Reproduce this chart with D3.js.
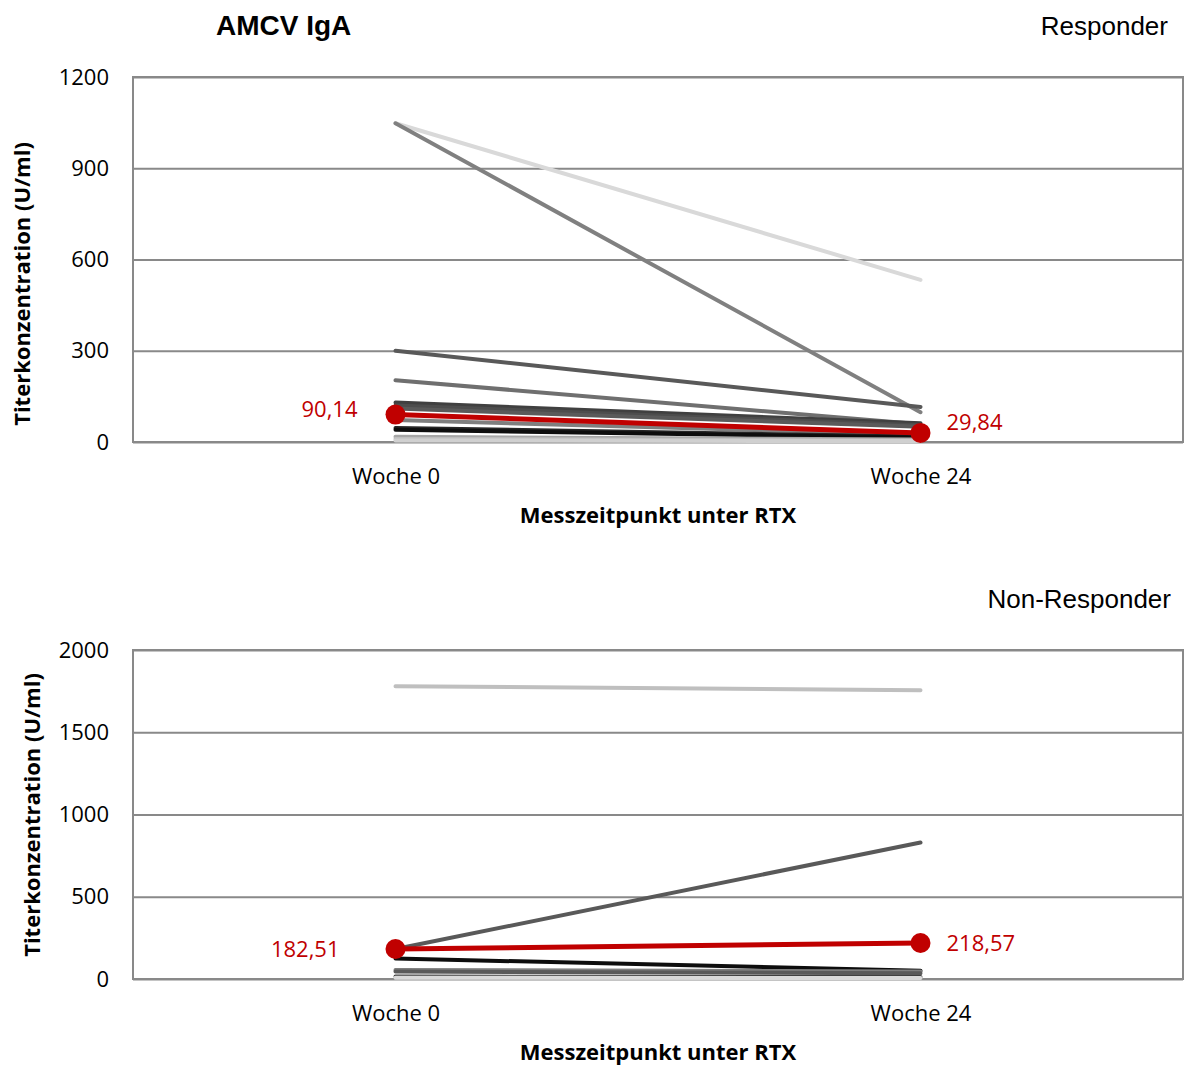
<!DOCTYPE html>
<html lang="de">
<head>
  <meta charset="UTF-8">
  <title>AMCV IgA</title>
  <style>
    html, body { margin: 0; background: #fff; }
    svg { display: block; }
  </style>
</head>
<body>
  <svg id="chart" width="1186" height="1066"></svg>
  <script src="https://cdn.jsdelivr.net/npm/d3@7"></script>
  <script>
    // Messzeitpunkte
    var weeks = ['Woche 0', 'Woche 24']

    // Responder: Einzelverläufe (Woche 0, Woche 24)
    var respW0 = [1048, 1048, 300, 203, 130, 120, 110, 72, 46, 40, 17, 10, 5]
    var respW24 = [533, 98, 115, 58, 62, 55, 50, 25, 18, 15, 8, 5, 3]
    var respMean = [90.14, 29.84]
    var respTicks = [0, 300, 600, 900, 1200]

    // Non-Responder
    var nonW0 = [1780, 182, 125, 55, 45, 15, 8]
    var nonW24 = [1755, 830, 50, 45, 35, 12, 6]
    var nonMean = [182.51, 218.57]
    var nonTicks = [0, 500, 1000, 1500, 2000]

    var respColors = ['#d9d9d9', '#808080', '#595959', '#6f6f6f', '#404040', '#4d4d4d',
      '#5a5a5a', '#7f7f7f', '#262626', '#0d0d0d', '#a6a6a6', '#bfbfbf', '#d0d0d0']
    var nonColors = ['#bfbfbf', '#595959', '#0d0d0d', '#7f7f7f', '#5a5a5a', '#404040', '#d9d9d9']

    var svg = d3.select('#chart')
    var tickFont = '"Open Sans", sans-serif'
    var red = '#c00000'

    function panel(opt) {
      var x = d3.scalePoint().domain(weeks).range([opt.left, opt.right]).padding(0.5)
      var y = d3.scaleLinear().domain([0, d3.max(opt.ticks)]).range([opt.bottom, opt.top])
      var g = svg.append('g')

      // Gitternetz
      g.append('g')
        .attr('transform', `translate(${opt.left},0)`)
        .call(d3.axisLeft(y).tickValues(opt.ticks).tickFormat(d3.format('d'))
          .tickSize(-(opt.right - opt.left)).tickPadding(24))
        .call(a => a.select('.domain').remove())
        .call(a => a.selectAll('line').attr('stroke', '#898989').attr('stroke-width', 2))
        .call(a => a.selectAll('text').attr('font-family', tickFont).attr('font-size', 22).attr('fill', '#000'))

      g.append('rect')
        .attr('x', opt.left).attr('y', opt.top)
        .attr('width', opt.right - opt.left).attr('height', opt.bottom - opt.top)
        .attr('fill', 'none').attr('stroke', '#898989').attr('stroke-width', 2)

      // x-Achse
      g.append('g')
        .attr('transform', `translate(0,${opt.bottom})`)
        .call(d3.axisBottom(x).tickSize(0).tickPadding(26))
        .call(a => a.select('.domain').remove())
        .call(a => a.selectAll('text').attr('font-family', tickFont).attr('font-size', 22).attr('fill', '#000'))

      // Einzelverläufe
      var rows = opt.w0.map((v, i) => ({ a: v, b: opt.w24[i], c: opt.colors[i] }))
      g.append('g')
        .selectAll('line')
        .data(rows)
        .join('line')
        .attr('x1', x(weeks[0])).attr('x2', x(weeks[1]))
        .attr('y1', d => y(d.a)).attr('y2', d => y(d.b))
        .attr('stroke', d => d.c)
        .attr('stroke-width', 4)
        .attr('stroke-linecap', 'round')

      // Mittelwert
      g.append('line')
        .attr('x1', x(weeks[0])).attr('x2', x(weeks[1]))
        .attr('y1', y(opt.mean[0])).attr('y2', y(opt.mean[1]))
        .attr('stroke', red).attr('stroke-width', 5)

      g.selectAll('circle')
        .data(opt.mean)
        .join('circle')
        .attr('cx', (d, i) => x(weeks[i]))
        .attr('cy', d => y(d))
        .attr('r', 10)
        .attr('fill', red)

      g.selectAll('text.val')
        .data(opt.mean)
        .join('text')
        .attr('class', 'val')
        .attr('x', (d, i) => x(weeks[i]) + (i === 0 ? -opt.lblOff : 26))
        .attr('y', (d, i) => y(d) + opt.lblDy[i])
        .attr('dy', '0.35em')
        .attr('text-anchor', (d, i) => i === 0 ? 'end' : 'start')
        .attr('font-family', tickFont)
        .attr('font-size', 22)
        .attr('fill', red)
        .text(d => d3.format('.2f')(d).replace('.', ','))

      // Achsentitel
      g.append('text')
        .attr('transform', `translate(${opt.ytx},${opt.ytc}) rotate(-90)`)
        .attr('text-anchor', 'middle')
        .attr('dy', '0.35em')
        .attr('font-family', tickFont)
        .attr('font-weight', 'bold')
        .attr('font-size', 22)
        .text('Titerkonzentration (U/ml)')

      g.append('text')
        .attr('x', 658).attr('y', opt.bottom + 81)
        .attr('text-anchor', 'middle')
        .attr('font-family', tickFont)
        .attr('font-weight', 'bold')
        .attr('font-size', 22)
        .text('Messzeitpunkt unter RTX')

      g.append('text')
        .attr('x', opt.gx).attr('y', opt.top - 42)
        .attr('text-anchor', 'end')
        .attr('font-family', 'Liberation Sans, Arial, sans-serif')
        .attr('font-size', 26)
        .text(opt.group)
    }

    panel({ left: 133, right: 1183, top: 77, bottom: 442, ticks: respTicks, w0: respW0, w24: respW24,
      colors: respColors, mean: respMean, lblOff: 38, lblDy: [-5, -11], ytx: 22, ytc: 284,
      gx: 1168, group: 'Responder' })
    panel({ left: 133, right: 1183, top: 650, bottom: 979, ticks: nonTicks, w0: nonW0, w24: nonW24,
      colors: nonColors, mean: nonMean, lblOff: 56, lblDy: [0, 0], ytx: 32, ytc: 815,
      gx: 1171, group: 'Non-Responder' })

    svg.append('text')
      .attr('x', 216).attr('y', 35)
      .attr('font-family', 'Liberation Sans, Arial, sans-serif')
      .attr('font-weight', 'bold')
      .attr('font-size', 28)
      .text('AMCV IgA')
  </script>
</body>
</html>
